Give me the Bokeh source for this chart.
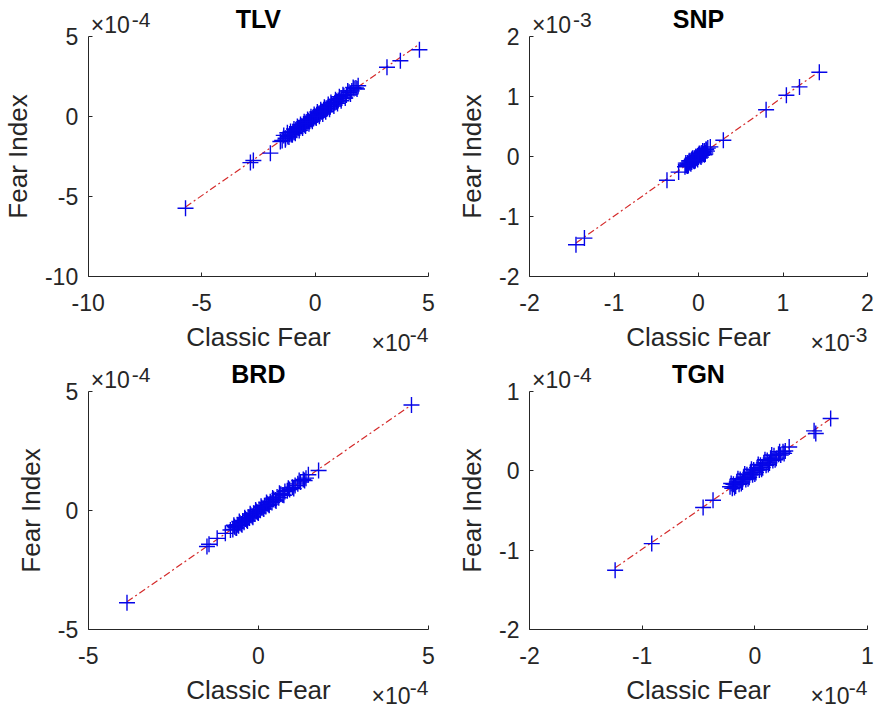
import numpy as np
from bokeh.plotting import figure
from bokeh.layouts import gridplot
from bokeh.models import Range1d, FixedTicker, Label
from bokeh.embed import file_html
from bokeh.resources import INLINE

FONT = "Liberation Sans"
AX = "#262626"

# ---- data (values in units of 10^exponent, as displayed) ----
titles = ["TLV", "SNP", "BRD", "TGN"]
exponents = ["-4", "-3", "-4", "-4"]

tlv_classic = [-5.71, -2.85, -2.72, -1.97, -1.53, -1.45, -1.31, -1.20, -1.12, -1.05,
               -0.98, -0.92, -0.85, -0.80, -0.74, -0.68, -0.62, -0.57, -0.51, -0.46,
               -0.40, -0.35, -0.30, -0.25, -0.20, -0.15, -0.10, -0.06, -0.02, 0.03,
               0.07, 0.12, 0.17, 0.22, 0.27, 0.32, 0.38, 0.43, 0.49, 0.55,
               0.61, 0.67, 0.73, 0.80, 0.87, 0.94, 1.02, 1.10, 1.18, 1.27,
               1.38, 1.50, 1.62, 1.72, 1.80, 1.90, 3.17, 3.76, 4.60,
               -1.38, -1.30, -1.22, -1.15, -1.08, -1.00, -0.93, -0.87, -0.78, -0.70,
               -0.64, -0.55, -0.48, -0.42, -0.33, -0.27, -0.18, -0.12, -0.04, 0.05,
               0.10, 0.19, 0.25, 0.34, 0.41, 0.47, 0.58, 0.64, 0.70, 0.83,
               0.90, 0.99, 1.07, 1.15, 1.23, 1.33, 1.44, 1.56, 1.68, 1.85]
tlv_fear = [-5.73, -2.88, -2.75, -2.29, -1.56, -1.50, -1.46, -1.25, -1.10, -1.12,
            -0.95, -0.98, -0.83, -0.86, -0.70, -0.72, -0.60, -0.63, -0.48, -0.52,
            -0.37, -0.40, -0.27, -0.31, -0.17, -0.19, -0.08, -0.11, 0.01, 0.00,
            0.09, 0.10, 0.19, 0.20, 0.30, 0.29, 0.41, 0.40, 0.52, 0.51,
            0.63, 0.62, 0.76, 0.78, 0.86, 0.96, 1.00, 1.12, 1.15, 1.30,
            1.35, 1.52, 1.60, 1.75, 1.78, 1.92, 3.08, 3.48, 4.17,
            -1.18, -1.36, -1.02, -1.28, -0.94, -1.14, -0.78, -1.05, -0.63, -0.88,
            -0.50, -0.72, -0.33, -0.60, -0.18, -0.45, -0.02, -0.30, 0.12, -0.10,
            0.28, 0.02, 0.42, 0.16, 0.58, 0.30, 0.75, 0.46, 0.88, 0.66,
            1.05, 0.82, 1.24, 0.98, 1.36, 1.16, 1.60, 1.40, 1.82, 1.72]

snp_classic = [-1.45, -1.35, -0.373, -0.235,
               -0.16, -0.15, -0.14, -0.13, -0.12, -0.11, -0.10, -0.09, -0.08, -0.07,
               -0.06, -0.05, -0.04, -0.03, -0.02, -0.01, 0.00, 0.01, 0.02, 0.03,
               0.04, 0.05, 0.06, 0.07, 0.08, 0.09, 0.10, 0.11,
               0.14, 0.294, 0.80, 1.04, 1.195, 1.43,
               -0.15, -0.13, -0.11, -0.09, -0.07, -0.05, -0.03, -0.01, 0.01, 0.03,
               0.05, 0.07, 0.09, -0.12, -0.08, -0.04, 0.00, 0.04, 0.08]
snp_fear = [-1.47, -1.36, -0.395, -0.26,
            -0.17, -0.14, -0.15, -0.11, -0.13, -0.09, -0.11, -0.07, -0.09, -0.05,
            -0.07, -0.03, -0.06, -0.01, -0.03, 0.01, -0.01, 0.03, 0.01, 0.05,
            0.02, 0.07, 0.04, 0.09, 0.06, 0.11, 0.09, 0.14,
            0.16, 0.27, 0.78, 1.02, 1.16, 1.405,
            -0.11, -0.16, -0.07, -0.12, -0.03, -0.08, 0.00, -0.05, 0.05, -0.01,
            0.09, 0.03, 0.12, -0.15, -0.05, -0.07, 0.03, 0.06, 0.04]

brd_classic = [-3.86, -1.51, -1.45, -1.21, -0.97, -0.82,
               -0.75, -0.70, -0.66, -0.62, -0.58, -0.54, -0.50, -0.46, -0.42, -0.38,
               -0.34, -0.30, -0.26, -0.22, -0.18, -0.14, -0.10, -0.06, -0.02, 0.02,
               0.06, 0.10, 0.14, 0.18, 0.22, 0.26, 0.30, 0.35, 0.40, 0.45,
               0.50, 0.55, 0.60, 0.66, 0.72, 0.78, 0.85, 0.92, 1.00, 1.08,
               1.16, 1.24, 1.32, 1.40, 1.47, 1.77, 4.50,
               -0.72, -0.64, -0.56, -0.48, -0.40, -0.32, -0.24, -0.16, -0.08, 0.00,
               0.08, 0.16, 0.24, 0.32, 0.42, 0.52, 0.62, 0.75, 0.88, 1.04, 1.20, 1.36]
brd_fear = [-3.875, -1.51, -1.42, -1.17, -0.96, -0.82,
            -0.80, -0.68, -0.72, -0.60, -0.64, -0.52, -0.57, -0.44, -0.49, -0.36,
            -0.40, -0.28, -0.32, -0.20, -0.24, -0.12, -0.15, -0.04, -0.07, 0.04,
            0.01, 0.12, 0.09, 0.20, 0.17, 0.28, 0.25, 0.37, 0.34, 0.47,
            0.44, 0.57, 0.54, 0.68, 0.65, 0.80, 0.83, 0.88, 0.98, 1.05,
            1.12, 1.20, 1.30, 1.36, 1.50, 1.68, 4.43,
            -0.62, -0.74, -0.46, -0.60, -0.30, -0.44, -0.14, -0.28, 0.02, -0.10,
            0.18, 0.06, 0.34, 0.22, 0.52, 0.40, 0.72, 0.64, 0.94, 0.92, 1.26, 1.26]

tgn_classic = [-1.24, -0.915, -0.459, -0.371,
               -0.22, -0.20, -0.19, -0.17, -0.16, -0.14, -0.13, -0.11, -0.10, -0.08,
               -0.07, -0.05, -0.04, -0.02, -0.01, 0.01, 0.02, 0.04, 0.05, 0.07,
               0.08, 0.10, 0.11, 0.13, 0.14, 0.16, 0.17, 0.19, 0.21, 0.23,
               0.25, 0.27, 0.305, 0.526, 0.541, 0.673,
               -0.21, -0.18, -0.15, -0.12, -0.09, -0.06, -0.03, 0.00, 0.03, 0.06,
               0.09, 0.12, 0.15, 0.18, 0.22, 0.26]
tgn_fear = [-1.253, -0.917, -0.463, -0.37,
            -0.20, -0.22, -0.17, -0.19, -0.14, -0.17, -0.11, -0.14, -0.08, -0.11,
            -0.05, -0.08, -0.02, -0.05, 0.01, -0.02, 0.04, 0.01, 0.07, 0.04,
            0.10, 0.07, 0.13, 0.10, 0.16, 0.13, 0.19, 0.16, 0.21, 0.20,
            0.24, 0.25, 0.30, 0.504, 0.47, 0.66,
            -0.16, -0.21, -0.10, -0.16, -0.04, -0.10, 0.02, -0.04, 0.08, 0.02,
            0.14, 0.08, 0.20, 0.14, 0.24, 0.22]

x_limits = [(-10, 5), (-2, 2), (-5, 5), (-2, 1)]
y_limits = [(-10, 5), (-2, 2), (-5, 5), (-2, 1)]
x_ticks = [[-10, -5, 0, 5], [-2, -1, 0, 1, 2], [-5, 0, 5], [-2, -1, 0, 1]]
y_ticks = [[-10, -5, 0, 5], [-2, -1, 0, 1, 2], [-5, 0, 5], [-2, -1, 0, 1]]

classic = [tlv_classic, snp_classic, brd_classic, tgn_classic]
fear = [tlv_fear, snp_fear, brd_fear, tgn_fear]

# ---- layout: figure sizes and axes boxes (left, right, top, bottom) in figure pixels ----
fig_w = [437, 438, 437, 438]
fig_h = [356, 356, 352, 352]
axes_box = [(87.7, 428.0, 36.0, 276.0), (92.0, 430.0, 36.0, 276.0),
            (87.7, 428.0, 35.0, 273.0), (92.0, 430.0, 35.0, 273.0)]

# empirical correction for Bokeh's label baseline placement
BASE = 8


def style_axis(ax, ticks):
    ax.ticker = FixedTicker(ticks=ticks)
    ax.major_label_overrides = {t: str(t) for t in ticks}
    ax.minor_tick_line_color = None
    ax.major_tick_in = 4
    ax.major_tick_out = 0
    ax.axis_line_color = AX
    ax.major_tick_line_color = AX
    ax.major_label_text_color = AX
    ax.major_label_text_font = FONT
    ax.major_label_text_font_size = "23px"
    ax.axis_label_text_font = FONT
    ax.axis_label_text_font_size = "26px"
    ax.axis_label_text_font_style = "normal"
    ax.axis_label_text_color = AX


def txt(p, x, y, dx, dy, text, size, align, bold=False, color=AX):
    p.add_layout(Label(x=x, y=y, x_offset=dx, y_offset=dy + BASE, text=text,
                       text_font=FONT, text_font_size=size, text_color=color,
                       text_font_style="bold" if bold else "normal",
                       text_baseline="alphabetic", text_align=align))


figs = []
for i in range(4):
    W, H = fig_w[i], fig_h[i]
    left, right, top, bottom = axes_box[i]
    x0, x1 = x_limits[i]
    y0, y1 = y_limits[i]
    kx = (right - left) / (x1 - x0)
    ky = (bottom - top) / (y1 - y0)
    xr = Range1d(x0 - left / kx, x1 + (W - right) / kx)
    yr = Range1d(y0 - (H - bottom) / ky, y1 + top / ky)

    p = figure(width=W, height=H, x_range=xr, y_range=yr,
               output_backend="svg", toolbar_location=None,
               min_border_left=0, min_border_right=0, min_border_top=0, min_border_bottom=0)
    p.title.visible = False
    p.xgrid.visible = False
    p.ygrid.visible = False
    p.outline_line_color = None
    p.background_fill_color = "white"
    p.border_fill_color = "white"

    p.xaxis.axis_label = "Classic Fear"
    p.yaxis.axis_label = "Fear Index"
    style_axis(p.xaxis[0], x_ticks[i])
    style_axis(p.yaxis[0], y_ticks[i])
    p.xaxis.fixed_location = y0
    p.xaxis.bounds = (x0, x1)
    p.yaxis.fixed_location = x0
    p.yaxis.bounds = (y0, y1)
    p.xaxis.major_label_standoff = 17
    p.xaxis.axis_label_standoff = 8
    p.yaxis.major_label_standoff = 10
    p.yaxis.axis_label_standoff = 9

    xs = np.array(classic[i])
    ys = np.array(fear[i])
    coef = np.polyfit(xs, ys, 1)
    lx = np.array([xs.min(), xs.max()])
    ly = np.polyval(coef, lx)
    p.line(lx, ly, line_color="#d42a2a", line_width=1.2, line_dash="7 3 2 3")
    p.scatter(xs, ys, marker="cross", size=16, line_color="#0505e8", line_width=1.4)

    # title
    txt(p, (x0 + x1) / 2, y1, 0, 10, titles[i], "25px", "center", bold=True, color="#000000")
    # exponent labels (top-left for y, bottom-right for x)
    txt(p, x0, y1, 2.5, 4, "\u00d710", "23px", "left")
    txt(p, x0, y1, 43.5, 9, exponents[i], "21px", "left")
    txt(p, x1, y0, -18, -74, "\u00d710", "23px", "right")
    txt(p, x1, y0, 0, -66, exponents[i], "21px", "right")
    figs.append(p)

grid = gridplot([[figs[0], figs[1]], [figs[2], figs[3]]], toolbar_location=None)

open("out.html", "w").write(file_html(grid, INLINE))
